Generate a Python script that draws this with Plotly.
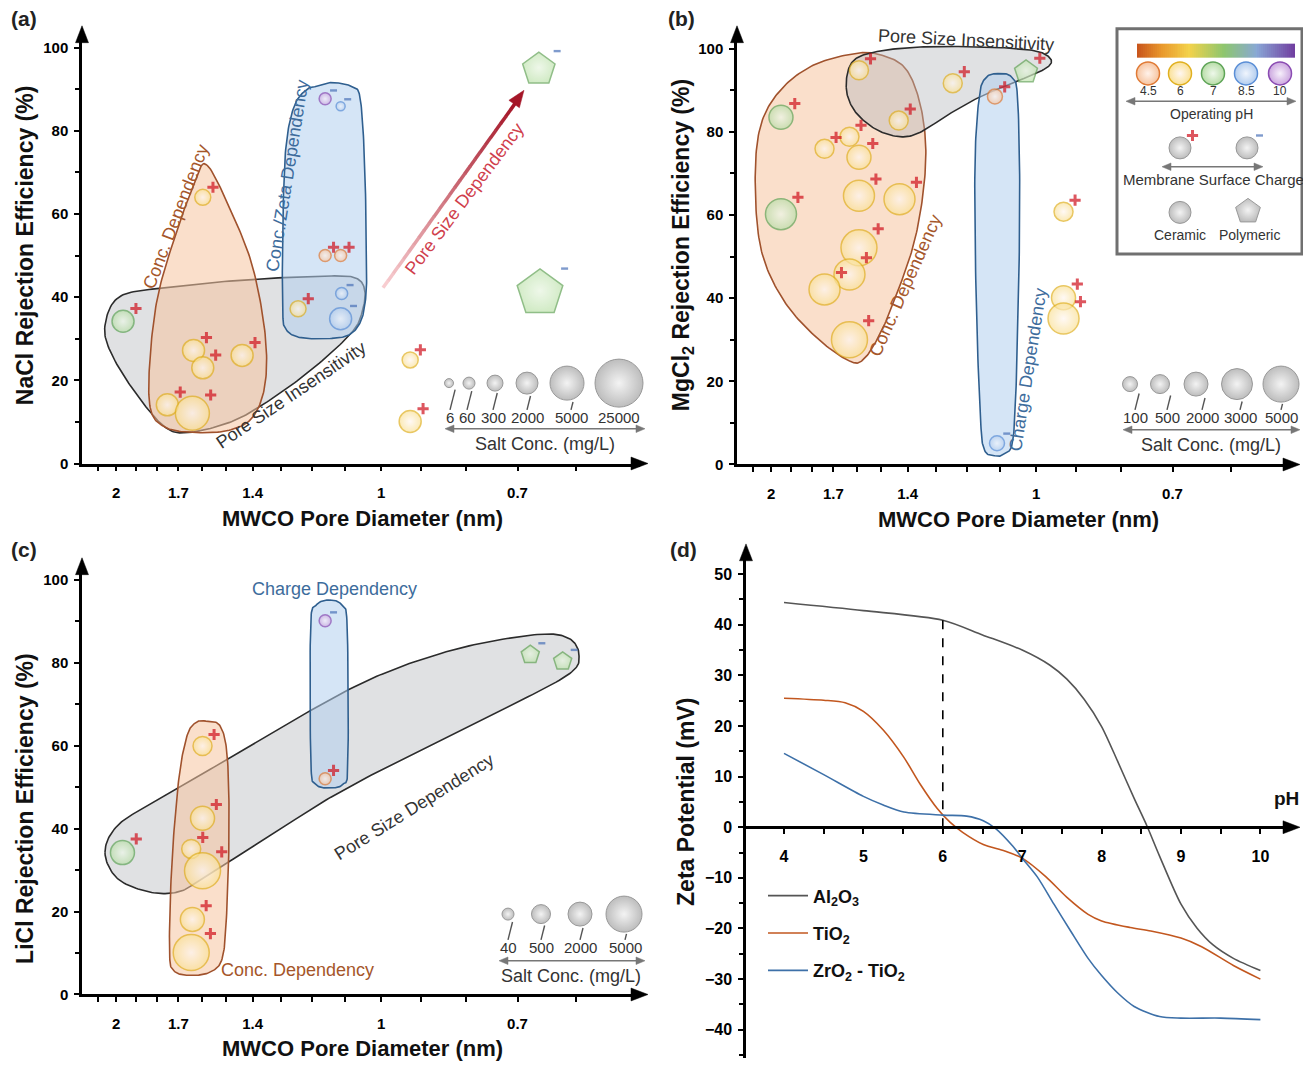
import numpy as np
import plotly.graph_objects as go

W, H = 1303, 1068
FONT = "Liberation Sans"

# ---------------- DATA ----------------
# (a) NaCl rejection vs MWCO pore diameter
a_diam = [1.965, 1.595, 1.634, 1.595, 1.439, 1.750, 1.639, 1.243, 1.158, 1.112,
          1.158, 1.112, 1.109, 1.112, 0.927, 0.927, 0.662, 0.660]
a_rej = [34.2, 64.0, 27.2, 23.0, 26.0, 14.1, 12.1, 37.2, 50.0, 50.0,
         87.7, 85.9, 40.9, 34.8, 24.9, 10.1, 94.8, 41.0]
a_ph = [7, 6, 6, 6, 6, 6, 6, 6, 4.5, 4.5, 10, 8.5, 8.5, 8.5, 6, 6, 7, 7]
a_conc = [2000, 300, 2000, 2000, 2000, 2000, 5000, 300, 60, 60,
          60, 6, 60, 2000, 300, 2000, 5000, 25000]
a_charge = list("++++++++++----++--")
a_type = list("CCCCCCCCCCCCCCCCPP")
a_legend_conc = [6, 60, 300, 2000, 5000, 25000]
a_size = {6: 9, 60: 12, 300: 16, 2000: 22, 5000: 34, 25000: 48}

# (b) MgCl2
b_diam = [1.95, 1.95, 1.59, 1.244, 1.433, 1.74, 1.63, 1.59, 1.59, 1.43,
          1.59, 1.63, 1.74, 1.63, 1.114, 1.027, 1.108, 0.931, 0.931, 0.931]
b_rej = [83.5, 60.2, 94.8, 91.7, 82.7, 75.9, 78.8, 73.9, 64.6, 63.8,
         52.1, 45.7, 42.1, 30.0, 88.5, 94.4, 5.1, 60.8, 40.1, 35.1]
b_ph = [7, 7, 6, 6, 6, 6, 6, 6, 6, 6, 6, 6, 6, 6, 4.5, 7, 8.5, 6, 6, 6]
b_conc = [2000, 3000, 500, 500, 500, 500, 500, 2000, 3000, 3000,
          5000, 3000, 3000, 5000, 100, 2000, 100, 500, 2000, 3000]
b_charge = list("++++++++++++++++-+++")
b_type = list("CCCCCCCCCCCCCCCPCCCC")
b_legend_conc = [100, 500, 2000, 3000, 5000]
b_size = {100: 15, 500: 19, 2000: 24, 3000: 31, 5000: 36}

# (c) LiCl
c_diam = [1.968, 1.596, 1.596, 1.644, 1.596, 1.639, 1.644, 1.158, 1.158, 0.677, 0.622]
c_rej = [34.2, 59.9, 42.5, 35.1, 29.8, 18.1, 10.1, 90.1, 52.0, 81.9, 80.3]
c_ph = [7, 6, 6, 6, 6, 6, 6, 10, 4.5, 7, 7]
c_conc = [2000, 500, 2000, 500, 5000, 2000, 5000, 40, 40, 500, 500]
c_charge = list("+++++++-+--")
c_type = list("CCCCCCCCCPP")
c_legend_conc = [40, 500, 2000, 5000]
c_size = {40: 12, 500: 19, 2000: 24, 5000: 36}

# (d) zeta potential vs pH
ph_al = [4, 5, 6, 6.5, 7, 7.35, 7.56, 7.78, 8, 8.2, 8.41, 8.57, 8.73, 9, 9.2, 9.4, 9.66, 10]
zeta_al = [44.4, 42.8, 40.9, 38.0, 35.0, 32.0, 29.3, 25.3, 19.9, 13.1, 5.7, 0.3, -5.7,
           -15.2, -19.9, -23.2, -25.9, -28.3]
ph_ti = [4, 4.5, 4.77, 5, 5.25, 5.51, 5.72, 5.93, 6.09, 6.25, 6.51, 6.78, 7, 7.3, 7.56,
         7.83, 8, 8.36, 8.62, 9, 9.26, 9.66, 10]
zeta_ti = [25.5, 25.1, 24.6, 22.9, 19.2, 13.8, 8.4, 3.7, 1.0, -1.0, -3.4, -4.7, -6.1,
           -9.8, -13.8, -17.2, -18.5, -19.8, -20.5, -21.9, -23.6, -27.3, -30.0]
ph_zr = [4, 4.5, 5, 5.25, 5.51, 6, 6.3, 6.51, 6.67, 6.88, 7, 7.19, 7.4, 7.61, 7.83, 8,
         8.2, 8.41, 8.73, 9, 9.5, 10]
zeta_zr = [14.6, 10.4, 6.1, 4.4, 3.0, 2.4, 2.2, 1.3, -0.3, -3.7, -6.1, -9.8, -15.2,
           -20.5, -25.9, -29.3, -32.7, -35.4, -37.4, -37.7, -37.7, -38.0]
ph_marker = 6

x_ticks = [2, 1.7, 1.4, 1, 0.7]
x_minor = [2.1, 1.9, 1.8, 1.6, 1.5, 1.3, 1.2, 1.1, 0.9, 0.8, 0.6]
ph_legend = [4.5, 6, 7, 8.5, 10]

# Region outlines (diameter nm, rejection %)
a_blob_gray = [(2.06, 33.2), (1.983, 40.1), (1.759, 42.3), (1.416, 44.2), (1.139, 45.1),
               (1.067, 44.5), (1.044, 41.7), (1.050, 36.8), (1.079, 31.6), (1.190, 23.2),
               (1.341, 15.1), (1.478, 10.1), (1.648, 7.5), (1.759, 8.7), (1.898, 16.7),
               (2.026, 26.4)]
a_blob_orange = [(1.578, 71.8), (1.478, 60.2), (1.400, 47.3), (1.355, 31.2), (1.355, 19.1),
                 (1.400, 11.1), (1.495, 7.9), (1.648, 7.5), (1.759, 8.7), (1.827, 12.7),
                 (1.834, 23.2), (1.798, 39.3), (1.721, 53.7), (1.630, 67.4)]
a_blob_blue = [(1.190, 90.6), (1.139, 91.6), (1.079, 90.6), (1.056, 87.5), (1.044, 71.4),
               (1.039, 47.3), (1.042, 39.3), (1.056, 34.0), (1.091, 30.8), (1.164, 30.0),
               (1.243, 30.4), (1.284, 32.4), (1.294, 36.8), (1.294, 55.4), (1.284, 75.5),
               (1.256, 85.9), (1.216, 89.9)]
b_blob_orange = [(1.627, 24.8), (1.774, 30.4), (1.934, 39.3), (2.052, 51.3), (2.086, 67.4),
                 (2.059, 81.1), (1.955, 89.9), (1.793, 96.0), (1.609, 98.8), (1.508, 98.6),
                 (1.413, 95.6), (1.361, 88.3), (1.336, 77.9), (1.342, 66.6), (1.375, 53.7),
                 (1.436, 41.7), (1.500, 32.0), (1.566, 25.6)]
b_blob_gray = [(1.644, 90.7), (1.618, 96.8), (1.524, 99.2), (1.354, 100.4), (1.151, 100.4),
               (1.011, 99.6), (0.965, 97.8), (0.970, 95.6), (1.033, 92.8), (1.151, 88.7),
               (1.255, 84.3), (1.354, 79.9), (1.429, 78.8), (1.524, 80.7), (1.609, 85.1)]
b_blob_blue = [(1.105, 94.0), (1.067, 93.2), (1.05, 88.3), (1.044, 63.4), (1.05, 31.2),
               (1.061, 7.1), (1.084, 2.7), (1.114, 2.1), (1.145, 3.5), (1.157, 11.1),
               (1.170, 39.3), (1.174, 71.4), (1.161, 88.3), (1.141, 93.0)]
c_blob_gray = [(2.060, 34.3), (1.990, 40.9), (1.804, 46.6), (1.549, 54.8), (1.273, 65.5),
               (1.024, 76.2), (0.824, 83.2), (0.670, 86.7), (0.614, 86.0), (0.596, 81.9),
               (0.614, 77.0), (0.739, 68.0), (0.919, 58.1), (1.142, 47.5), (1.389, 36.0),
               (1.582, 28.6), (1.690, 24.9), (1.823, 24.6), (1.990, 27.8)]
c_blob_orange = [(1.582, 65.9), (1.524, 64.7), (1.496, 57.3), (1.489, 39.2), (1.499, 18.7),
                 (1.515, 8.9), (1.557, 5.6), (1.635, 4.6), (1.718, 5.6), (1.740, 10.5),
                 (1.730, 31.0), (1.699, 51.6), (1.663, 62.2), (1.626, 65.5)]
c_blob_blue = [(1.144, 95.1), (1.108, 93.8), (1.093, 88.5), (1.091, 55.7), (1.105, 50.7),
               (1.148, 49.8), (1.186, 50.7), (1.202, 55.7), (1.203, 88.5), (1.186, 93.8)]

# ---------------- STYLE ----------------
PH_STYLE = {  # fill, edge, centre
    4.5: ("#F6C4A0", "#E07A35", "#FFF2EA"),
    6: ("#FAE196", "#E0B020", "#FFF7F2"),
    7: ("#B8DDA8", "#5EA457", "#EEF8EA"),
    8.5: ("#B3CDEE", "#5A8ED6", "#F0F5FD"),
    10: ("#CBA6DF", "#8A4BB2", "#F7F0FB"),
}
BLOB_STYLE = {
    "orange": ("rgba(246,196,160,0.55)", "#A0522D"),
    "gray": ("rgba(180,184,188,0.42)", "#2B2B2B"),
    "blue": ("rgba(178,208,238,0.55)", "#2F5F8F"),
}
PLUS_COL, MINUS_COL = "#D0101C", "#4A72B8"
PX_PER_DEC = 880.0


def geo(x0, x1, y0, y1, ppu):
    return dict(xpx=(x0, x1), ypx=(y0, y1), xr=(0.34, 0.34 - (x1 - x0) / PX_PER_DEC),
                yr=(0.0, (y1 - y0) / ppu))


GEO = {"a": geo(82, 640, 34, 467, 4.19),
       "b": geo(737, 1292, 34, 468, 4.19),
       "c": geo(82, 640, 570, 1002, 4.18)}
AX = {"a": ("x", "y"), "b": ("x2", "y2"), "c": ("x3", "y3")}


def to_px(g, d, v):
    (x0, x1), (y0, y1), (r0, r1), (v0, v1) = g["xpx"], g["ypx"], g["xr"], g["yr"]
    px = x0 + (r0 - np.log10(d)) / (r0 - r1) * (x1 - x0)
    py = y1 - (v - v0) / (v1 - v0) * (y1 - y0)
    return px, py


def from_px(g, px, py):
    (x0, x1), (y0, y1), (r0, r1), (v0, v1) = g["xpx"], g["ypx"], g["xr"], g["yr"]
    d = 10 ** (r0 - (px - x0) / (x1 - x0) * (r0 - r1))
    v = v0 + (y1 - py) / (y1 - y0) * (v1 - v0)
    return d, v


def smooth_closed(pts, n=18):
    P = np.array(pts, dtype=float)
    N = len(P)
    out = []
    for i in range(N):
        p0, p1, p2, p3 = P[(i - 1) % N], P[i], P[(i + 1) % N], P[(i + 2) % N]
        for t in np.linspace(0, 1, n, endpoint=False):
            out.append(0.5 * (2 * p1 + (-p0 + p2) * t + (2 * p0 - 5 * p1 + 4 * p2 - p3) * t * t
                              + (-p0 + 3 * p1 - 3 * p2 + p3) * t ** 3))
    out.append(out[0])
    return np.array(out)


fig = go.Figure()


def add_blob(panel, pts, kind):
    g = GEO[panel]
    px = [to_px(g, d, v) for d, v in pts]
    sm = smooth_closed(px)
    d, v = from_px(g, sm[:, 0], sm[:, 1])
    fill, line = BLOB_STYLE[kind]
    xa, ya = AX[panel]
    fig.add_trace(go.Scatter(x=d, y=v, mode="lines", fill="toself", fillcolor=fill,
                             line=dict(color=line, width=1.6), hoverinfo="skip",
                             showlegend=False, xaxis=xa, yaxis=ya))


def charge_marker(charge):
    """Surface-charge sign drawn as a small symbol: red plus / blue dash."""
    sym = ["cross-thin" if q == "+" else "line-ew" for q in charge]
    col = [PLUS_COL if q == "+" else MINUS_COL for q in charge]
    sz = [8 if q == "+" else 5 for q in charge]
    lw = [3.0 if q == "+" else 2.4 for q in charge]
    return dict(symbol=sym, size=sz, color=col, line=dict(color=col, width=lw))


def add_points(panel, diam, rej, ph, conc, charge, kind, sizemap):
    xa, ya = AX[panel]
    g = GEO[panel]
    fills, edges, cents, syms, sizes = [], [], [], [], []
    for p, k, c in zip(ph, kind, conc):
        f, e, ce = PH_STYLE[p]
        if k == "P":
            f, e, ce = "#BFE3AE", "#62A356", "#E8F5E1"
        fills.append(f); edges.append(e); cents.append(ce)
        syms.append("circle" if k == "C" else "pentagon")
        sizes.append(sizemap[c])
    fig.add_trace(go.Scatter(
        x=diam, y=rej, mode="markers",
        marker=dict(size=sizes, symbol=syms, color=fills,
                    line=dict(color=edges, width=1.5),
                    gradient=dict(type="radial", color=cents)),
        cliponaxis=False, hoverinfo="skip", showlegend=False, xaxis=xa, yaxis=ya))
    # charge sign just off the upper-right rim of each marker
    px, py = to_px(g, np.array(diam), np.array(rej))
    s = np.array(sizes, dtype=float)
    off = 0.45 * s + 3.0
    tx, ty = from_px(g, px + off, py - off)
    fig.add_trace(go.Scatter(
        x=tx, y=ty, mode="markers", marker=charge_marker(charge),
        cliponaxis=False, hoverinfo="skip", showlegend=False, xaxis=xa, yaxis=ya))


# ---- panels a-c ----
add_blob("a", a_blob_gray, "gray")
add_blob("a", a_blob_orange, "orange")
add_blob("a", a_blob_blue, "blue")
add_points("a", a_diam, a_rej, a_ph, a_conc, a_charge, a_type, a_size)

add_blob("b", b_blob_orange, "orange")
add_blob("b", b_blob_gray, "gray")
add_blob("b", b_blob_blue, "blue")
add_points("b", b_diam, b_rej, b_ph, b_conc, b_charge, b_type, b_size)

add_blob("c", c_blob_gray, "gray")
add_blob("c", c_blob_orange, "orange")
add_blob("c", c_blob_blue, "blue")
add_points("c", c_diam, c_rej, c_ph, c_conc, c_charge, c_type, c_size)

# ---- panel d ----
lines_d = [(ph_al, zeta_al, "#555555", "<b>Al<sub>2</sub>O<sub>3</sub></b>"),
           (ph_ti, zeta_ti, "#C2571F", "<b>TiO<sub>2</sub></b>"),
           (ph_zr, zeta_zr, "#3D70A8", "<b>ZrO<sub>2</sub> - TiO<sub>2</sub></b>")]
for i, (xx, yy, col, nm) in enumerate(lines_d):
    fig.add_trace(go.Scatter(x=xx, y=yy, mode="lines",
                             line=dict(color=col, width=1.6, shape="spline", smoothing=0.8),
                             name=nm, legendgroup=str(i), xaxis="x4", yaxis="y4", hoverinfo="skip"))
fig.add_trace(go.Scatter(x=[ph_marker, ph_marker], y=[0, float(np.interp(ph_marker, ph_al, zeta_al))],
                         mode="lines", line=dict(color="black", width=1.6, dash="dash"),
                         showlegend=False, xaxis="x4", yaxis="y4", hoverinfo="skip"))

# ---------------- OVERLAY (pixel space decorations) ----------------
shapes, annots = [], []


def T(x, y, s, size=15, color="#222222", angle=0, bold=False, xanchor="center", yanchor="middle"):
    annots.append(dict(x=x, y=y, xref="x5", yref="y5", text=s, showarrow=False, textangle=angle,
                       xanchor=xanchor, yanchor=yanchor,
                       font=dict(family=FONT, size=size, color=color, weight="bold" if bold else "normal")))


def L(x0, y0, x1, y1, color="#777777", width=1.5):
    shapes.append(dict(type="line", x0=x0, y0=y0, x1=x1, y1=y1, xref="x5", yref="y5",
                       line=dict(color=color, width=width)))


def tri(tip, direction, length, half, color):
    u = np.array(direction, dtype=float)
    u /= np.linalg.norm(u)
    t = np.array(tip, dtype=float)
    b = t - u * length
    pp = np.array([-u[1], u[0]])
    p1, p2 = b + pp * half, b - pp * half
    shapes.append(dict(type="path", xref="x5", yref="y5",
                       path=f"M {t[0]:.1f} {t[1]:.1f} L {p1[0]:.1f} {p1[1]:.1f} L {p2[0]:.1f} {p2[1]:.1f} Z",
                       fillcolor=color, line=dict(color=color, width=0.5)))


def darrow(x0, x1, y, color="#777777"):
    L(x0 + 6, y, x1 - 6, y, color, 1.6)
    tri((x0, y), (-1, 0), 9, 3.8, color)
    tri((x1, y), (1, 0), 9, 3.8, color)


# axis arrowheads
for g in (GEO["a"], GEO["b"], GEO["c"]):
    x0, x1 = g["xpx"]
    y0, y1 = g["ypx"]
    tri((x0, y0 - 8), (0, -1), 17, 6.5, "black")
    tri((x1 + 8, y1), (1, 0), 17, 6.5, "black")
tri((746, 548), (0, -1), 17, 6.5, "black")
tri((1300, 833.5), (1, 0), 17, 6.5, "black")

# panel letters & axis titles
for lbl, x, y in [("(a)", 24, 19), ("(b)", 681, 19), ("(c)", 24, 554), ("(d)", 683, 554)]:
    T(x, y, lbl, 21, "#222222", bold=True)
T(25, 247, "NaCl Rejection Efficiency (%)", 23, "#111111", -90, True)
T(362, 522, "MWCO Pore Diameter (nm)", 22, "#111111", 0, True)
T(682, 247, "MgCl<sub>2</sub> Rejection Efficiency (%)", 23, "#111111", -90, True)
T(1018, 523, "MWCO Pore Diameter (nm)", 22, "#111111", 0, True)
T(25, 815, "LiCl Rejection Efficiency (%)", 23, "#111111", -90, True)
T(362, 1056, "MWCO Pore Diameter (nm)", 22, "#111111", 0, True)
T(686, 808, "Zeta Potential (mV)", 23, "#111111", -90, True)
T(1286, 805, "pH", 19, "#111111", 0, True)

# region labels
BR, BL, GR, RD = "#A5562A", "#3D6C9C", "#333333", "#D0404C"
T(176, 219, "Conc. Dependency", 18, BR, -69)
T(287, 177, "Conc./Zeta Dependency", 18, BL, -81)
T(291, 398, "Pore Size Insensitivity", 18, GR, -34)
T(464, 200, "Pore Size Dependency", 18, RD, -53)
T(966, 40, "Pore Size Insensitivity", 18, GR, 3)
T(905, 288, "Conc. Dependency", 18, BR, -66)
T(1028, 373, "Charge Dependency", 18, BL, -81)
T(334, 593, "Charge Dependency", 18, BL)
T(414, 813, "Pore Size Dependency", 18, GR, -32)
T(297, 977, "Conc. Dependency", 18, BR)

# red gradient arrow (pore size dependency)
p0, p1 = np.array([383.0, 290.0]), np.array([516.0, 103.0])
nseg = 26
c0, c1 = np.array([248, 205, 208]), np.array([165, 22, 40])
for i in range(nseg):
    s0, s1 = p0 + (p1 - p0) * i / nseg, p0 + (p1 - p0) * (i + 1.05) / nseg
    c = (c0 + (c1 - c0) * (i / (nseg - 1))).astype(int)
    L(s0[0], s0[1], s1[0], s1[1], f"rgb({c[0]},{c[1]},{c[2]})", 3.5)
tri((524, 91), tuple(p1 - p0), 17, 6.5, "rgb(165,22,40)")

# salt concentration size legends
ov_x, ov_y, ov_s = [], [], []


def size_legend(concs, sizemap, cx, cy, lx, ly, ax0, ax1, ay, tx, tyy):
    for c, x, l in zip(concs, cx, lx):
        s = sizemap[c]
        ov_x.append(x); ov_y.append(cy); ov_s.append(s)
        T(l, ly, str(c), 15, "#333333")
        top = cy + s / 2 + 2
        bot = ly - 8
        if bot - top > 2:
            L(l + 0.25 * (bot - top), top, l, bot, "#555555", 1.4)
    darrow(ax0, ax1, ay)
    T(tx, tyy, "Salt Conc. (mg/L)", 18, "#333333")


size_legend(a_legend_conc, a_size, [449, 469, 495, 527, 567, 619], 386,
            [450, 467, 493, 527, 571, 619], 421, 445, 645, 432, 545, 447)
size_legend(b_legend_conc, b_size, [1130, 1160, 1196, 1237, 1281], 387,
            [1135, 1167, 1202, 1240, 1281], 421, 1123, 1300, 433, 1211, 448)
size_legend(c_legend_conc, c_size, [508, 541, 580, 624], 921,
            [508, 541, 580, 625], 955, 499, 645, 968, 571, 983)
GRAY_MK = dict(color="#A2A2A2", line=dict(color="#6E6E6E", width=1),
               gradient=dict(type="radial", color="#EFEFEF"))
fig.add_trace(go.Scatter(x=ov_x, y=ov_y, mode="markers", marker=dict(size=ov_s, **GRAY_MK),
                         xaxis="x5", yaxis="y5", hoverinfo="skip", showlegend=False, cliponaxis=False))

# key box in panel (b)
shapes.append(dict(type="rect", x0=1117, y0=29, x1=1302, y1=256, xref="x5", yref="y5",
                   line=dict(color="#707070", width=3), fillcolor="rgba(255,255,255,0)"))
ncol = 80
fig.add_trace(go.Heatmap(z=[list(np.linspace(0, 1, ncol))], x=list(np.linspace(1137, 1295, ncol + 1)),
                         y=[44, 58], showscale=False, hoverinfo="skip", xaxis="x5", yaxis="y5",
                         colorscale=[[0, "#C9561C"], [0.15, "#E9982C"], [0.33, "#F3D24A"],
                                     [0.55, "#8DC66E"], [0.76, "#89A8D6"], [1, "#7140A1"]]))
kx = [1148, 1180, 1213, 1246, 1280]
kf = [PH_STYLE[p] for p in ph_legend]
fig.add_trace(go.Scatter(x=kx, y=[74] * 5, mode="markers",
                         marker=dict(size=23, color=[k[0] for k in kf], line=dict(color=[k[1] for k in kf], width=1.5),
                                     gradient=dict(type="radial", color=[k[2] for k in kf])),
                         xaxis="x5", yaxis="y5", hoverinfo="skip", showlegend=False))
for x, p in zip(kx, ph_legend):
    T(x, 92, str(p), 12, "#333333")
darrow(1126, 1296, 102)
T(1211, 115, "Operating pH", 14, "#333333")
key_x, key_y = [1180, 1247, 1180, 1248], [149, 149, 214, 213]
key_sz, key_sym = [22, 22, 22, 26], ["circle", "circle", "circle", "pentagon"]
fig.add_trace(go.Scatter(x=key_x, y=key_y, mode="markers",
                         marker=dict(size=key_sz, symbol=key_sym, **GRAY_MK),
                         xaxis="x5", yaxis="y5", hoverinfo="skip", showlegend=False, cliponaxis=False))
fig.add_trace(go.Scatter(x=[key_x[0] + 12.5, key_x[1] + 12.5], y=[key_y[0] - 12.5, key_y[1] - 12.5],
                         mode="markers", marker=charge_marker(["+", "-"]),
                         xaxis="x5", yaxis="y5", hoverinfo="skip", showlegend=False, cliponaxis=False))
darrow(1162, 1263, 168)
T(1213, 181, "Membrane Surface Charge", 15, "#333333")
T(1180, 237, "Ceramic", 14, "#333333")
T(1249, 237, "Polymeric", 14, "#333333")

# ---------------- LAYOUT ----------------
TF = dict(family=FONT, size=15, color="black", weight="bold")


def xlog(g, anchor):
    return dict(type="log", domain=[g["xpx"][0] / W, g["xpx"][1] / W], range=list(g["xr"]), anchor=anchor,
                showline=True, linecolor="black", linewidth=2.5, ticks="outside", ticklen=5, tickwidth=1.5,
                tickcolor="black", tickvals=x_ticks, ticktext=[str(v) for v in x_ticks],
                minor=dict(tickvals=x_minor, ticks="outside", ticklen=5, tickwidth=1.5, tickcolor="black"),
                showgrid=False, zeroline=False, tickfont=TF, ticklabelstandoff=9, fixedrange=True)


def ylin(g, anchor):
    return dict(domain=[1 - g["ypx"][1] / H, 1 - g["ypx"][0] / H], range=list(g["yr"]), anchor=anchor,
                showline=True, linecolor="black", linewidth=2.5, ticks="outside", ticklen=5, tickwidth=1.5,
                tickcolor="black", tickvals=[0, 20, 40, 60, 80, 100],
                minor=dict(tickvals=[10, 30, 50, 70, 90], ticks="outside", ticklen=4, tickwidth=1.5, tickcolor="black"),
                showgrid=False, zeroline=False, tickfont=TF, ticklabelstandoff=3, fixedrange=True)


fig.update_layout(
    width=W, height=H, margin=dict(l=0, r=0, t=0, b=0),
    paper_bgcolor="white", plot_bgcolor="rgba(0,0,0,0)", hovermode=False,
    xaxis=xlog(GEO["a"], "y"), yaxis=ylin(GEO["a"], "x"),
    xaxis2=xlog(GEO["b"], "y2"), yaxis2=ylin(GEO["b"], "x2"),
    xaxis3=xlog(GEO["c"], "y3"), yaxis3=ylin(GEO["c"], "x3"),
    xaxis4=dict(domain=[746 / W, 1292 / W], range=[4 - 38 / 79.4, 4 + (1292 - 784) / 79.4],
                anchor="free", position=1 - 833.5 / H, showline=True, linecolor="black", linewidth=2.5,
                ticks="outside", ticklen=5, tickwidth=1.5, tickcolor="black", tickvals=[4, 5, 6, 7, 8, 9, 10],
                minor=dict(tickvals=[4.5, 5.5, 6.5, 7.5, 8.5, 9.5], ticks="outside", ticklen=5, tickwidth=1.5,
                           tickcolor="black"),
                showgrid=False, zeroline=False, tickfont=dict(TF, size=16), ticklabelstandoff=9, fixedrange=True),
    yaxis4=dict(domain=[1 - 1066 / H, 1 - 556 / H], range=[-(1066 - 833.5) / 5.1, (833.5 - 556) / 5.1],
                anchor="x4", showline=True, linecolor="black", linewidth=2.5, ticks="outside", ticklen=5,
                tickwidth=1.5, tickcolor="black", tickvals=list(range(-40, 51, 10)),
                minor=dict(tickvals=list(range(-45, 51, 10)), ticks="outside", ticklen=4, tickwidth=1.5,
                           tickcolor="black"),
                showgrid=False, zeroline=False, tickfont=dict(TF, size=16), ticklabelstandoff=3, fixedrange=True),
    xaxis5=dict(domain=[0, 1], range=[0, W], visible=False, anchor="y5", fixedrange=True),
    yaxis5=dict(domain=[0, 1], range=[H, 0], visible=False, anchor="x5", fixedrange=True),
    showlegend=True,
    legend=dict(x=763 / W, y=1 - 884 / H, xanchor="left", yanchor="top", bgcolor="rgba(0,0,0,0)",
                font=dict(family=FONT, size=18, color="#111111", weight="bold"), tracegroupgap=11,
                itemwidth=40),
    shapes=shapes, annotations=annots,
)

fig.write_html("out.html", config={"displayModeBar": False},
               post_script="document.body.style.margin='0';document.body.style.overflow='hidden';")
